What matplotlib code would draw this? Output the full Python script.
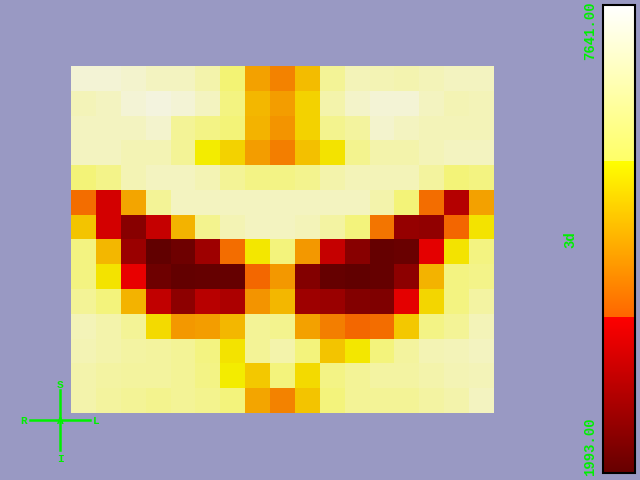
import numpy as np
import matplotlib
matplotlib.use("Agg")
import matplotlib.pyplot as plt
from matplotlib.colors import LinearSegmentedColormap, Normalize
from matplotlib.cm import ScalarMappable

# value range shown on the colour bar
vmin = 1993.0
vmax = 7641.0
bar_title = "3d"

# slice values, top row first (14 rows x 17 columns)
row00 = [7358, 7358, 7245, 7076, 7076, 6794, 6060, 4704, 4309, 5043, 6511, 6963, 6907, 6850, 6963, 7076, 7076]
row01 = [6963, 7076, 7358, 7471, 7358, 7076, 6229, 4986, 4648, 5325, 6794, 7189, 7358, 7358, 7076, 6907, 6963]
row02 = [7076, 7076, 7076, 7245, 6511, 6285, 6116, 4930, 4535, 5325, 6398, 6624, 7245, 7076, 6963, 6963, 6963]
row03 = [7076, 7076, 6907, 6907, 6511, 5664, 5325, 4648, 4252, 5099, 5551, 6398, 6794, 6794, 6963, 7076, 7076]
row04 = [6116, 6342, 6907, 7076, 7076, 6907, 6511, 6285, 6285, 6398, 6794, 6963, 6963, 6963, 6624, 6116, 6229]
row05 = [4026, 3461, 4761, 6511, 7076, 7076, 7076, 7076, 7076, 7076, 7076, 7076, 6794, 6116, 4026, 3066, 4704]
row06 = [5156, 3461, 2501, 3292, 4930, 6398, 6907, 7076, 7076, 6963, 6681, 6173, 4139, 2671, 2614, 3940, 5551]
row07 = [6229, 4986, 2727, 1993, 2162, 2784, 4026, 5608, 6173, 4591, 3292, 2501, 2049, 2106, 3687, 5551, 6229]
row08 = [6229, 5551, 3744, 2162, 2021, 2049, 2049, 3960, 4591, 2445, 2049, 1993, 2049, 2558, 4930, 6229, 6342]
row09 = [6511, 6173, 4930, 3236, 2558, 3123, 2953, 4535, 4986, 2784, 2727, 2445, 2388, 3687, 5382, 6229, 6681]
row10 = [6963, 6794, 6511, 5438, 4591, 4648, 4986, 6511, 6398, 4704, 4252, 3960, 4026, 5212, 6285, 6511, 6963]
row11 = [6907, 6794, 6681, 6624, 6511, 6229, 5551, 6511, 6794, 6173, 5156, 5608, 6173, 6624, 6907, 6963, 7076]
row12 = [6794, 6681, 6624, 6624, 6511, 6285, 5664, 5212, 6173, 5438, 6285, 6511, 6681, 6681, 6794, 6907, 6963]
row13 = [6794, 6624, 6511, 6398, 6511, 6398, 6173, 4761, 4309, 5156, 6173, 6511, 6511, 6511, 6681, 6794, 7076]

slice_values = np.array([row00, row01, row02, row03, row04, row05, row06,
                         row07, row08, row09, row10, row11, row12, row13], dtype=float)

# orientation letters of the axes triad
triad_up = "S"
triad_down = "I"
triad_left = "R"
triad_right = "L"
triad_mid = "A"

bg = "#9999c3"
green = "#00f000"

# hot-like lookup table with steps at 1/3 and 2/3
cdict = {
    "red":   [(0.0, 0.4, 0.4), (1/3, 1.0, 1.0), (1.0, 1.0, 1.0)],
    "green": [(0.0, 0.0, 0.0), (1/3, 0.0, 0.4), (2/3, 1.0, 1.0), (1.0, 1.0, 1.0)],
    "blue":  [(0.0, 0.0, 0.0), (2/3, 0.0, 0.4), (1.0, 1.0, 1.0)],
}
lut = LinearSegmentedColormap("lut", cdict, N=512)
# the slice is lit, so its colours come out a little dimmer than the bar
lit = LinearSegmentedColormap.from_list("lit", lut(np.linspace(0, 1, 512))[:, :3] * [0.955, 0.955, 0.92], N=512)
norm = Normalize(vmin=vmin, vmax=vmax)

W, H = 640, 480
fig = plt.figure(figsize=(6.4, 4.8), dpi=100, facecolor=bg)

# the slice
ax = fig.add_axes([71 / W, (H - 413) / H, 423 / W, 347 / H])
ax.imshow(slice_values, cmap=lit, norm=norm, aspect="auto", interpolation="nearest")
ax.set_axis_off()

# colour bar
cax = fig.add_axes([603 / W, (H - 473) / H, 32 / W, 468 / H])
cb = fig.colorbar(ScalarMappable(norm=norm, cmap=lut), cax=cax)
cb.set_ticks([])
cb.outline.set_edgecolor("black")
cb.outline.set_linewidth(1.5)

# overlay in pixel coordinates for texts and triad
ov = fig.add_axes([0, 0, 1, 1], facecolor="none")
ov.set_xlim(0, W)
ov.set_ylim(H, 0)
ov.set_axis_off()

mono = "Liberation Mono"
ov.text(590, 31, "%.2f" % vmax, rotation=90, ha="center", va="center",
        color=green, fontsize=10, family=mono, fontweight="bold")
ov.text(590, 447, "%.2f" % vmin, rotation=90, ha="center", va="center",
        color=green, fontsize=10, family=mono, fontweight="bold")
ov.text(570, 240, bar_title, rotation=90, ha="center", va="center",
        color=green, fontsize=10, family=mono, fontweight="bold")

cx, cy = 60, 420
ov.plot([30, 90], [cy, cy], color=green, lw=1.8, zorder=2)
ov.plot([cx, cx], [390, 450], color=green, lw=1.8, zorder=2)
for label, x, y in [(triad_up, cx, 385), (triad_down, cx, 459),
                    (triad_left, 24, 421), (triad_right, 96, 421),
                    (triad_mid, cx, 421)]:
    ov.text(x, y, label, ha="center", va="center", color=green,
            fontsize=8, family=mono, fontweight="bold", zorder=3)

fig.savefig("out.png", dpi=100, facecolor=bg)
